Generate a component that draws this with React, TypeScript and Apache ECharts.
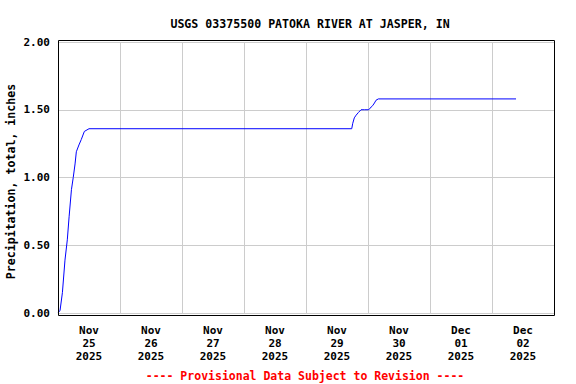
import React, { useEffect, useRef } from "react";
import * as echarts from "echarts";

// Hours since 2025-11-25 00:00 local time
const hours = [0, 0.8, 1.7, 2.7, 3.6, 4.3, 5.2, 5.9, 6.6, 7.1, 8.1, 9.0, 10.2, 12.0, 113.7, 114.1, 114.7, 115.4, 116.3, 117.3, 118.6, 120.3, 121.2, 121.8, 122.5, 123.1, 124.0, 177.3];
const precip = [0, 0.02, 0.15, 0.39, 0.54, 0.71, 0.91, 1.0, 1.1, 1.19, 1.24, 1.28, 1.34, 1.36, 1.36, 1.4, 1.44, 1.46, 1.48, 1.5, 1.5, 1.5, 1.52, 1.53, 1.55, 1.57, 1.58, 1.58];
const dayLabels = ["Nov\n25\n2025", "Nov\n26\n2025", "Nov\n27\n2025", "Nov\n28\n2025", "Nov\n29\n2025", "Nov\n30\n2025", "Dec\n01\n2025", "Dec\n02\n2025"];
const yTicks = [0, 0.5, 1.0, 1.5, 2.0];

const FONT = "DejaVu Sans Mono";

export default function App() {
  const ref = useRef<HTMLDivElement>(null);
  useEffect(() => {
    if (!ref.current) return;
    const chart = echarts.init(ref.current, null, { renderer: "svg" });
    const data = hours.map((h, i) => [h, precip[i]]);
    chart.setOption({
      animation: false,
      backgroundColor: "#ffffff",
      title: {
        text: "USGS 03375500 PATOKA RIVER AT JASPER, IN",
        left: 305,
        top: 13,
        textAlign: "center",
        textStyle: { fontFamily: FONT, fontSize: 11.6, fontWeight: "bold", color: "#000" },
      },
      grid: { left: 58, right: 22, top: 42, bottom: 71, containLabel: false, outerBoundsMode: "none" },
      xAxis: [
        {
          type: "value",
          min: 0,
          max: dayLabels.length * 24,
          interval: 24,
          axisLine: { show: false },
          axisTick: { show: false },
          axisLabel: { show: false },
          splitLine: { show: true, lineStyle: { color: "#cccccc", width: 1 } },
        },
        {
          type: "category",
          data: dayLabels,
          boundaryGap: true,
          position: "bottom",
          axisLine: { show: false },
          axisTick: { show: false },
          splitLine: { show: false },
          axisLabel: {
            margin: 11,
            lineHeight: 13,
            fontFamily: FONT,
            fontSize: 11,
            fontWeight: "bold",
            color: "#000",
            interval: 0,
          },
        },
      ],
      yAxis: {
        type: "value",
        min: yTicks[0],
        max: yTicks[yTicks.length - 1],
        interval: 0.5,
        axisLine: { show: false },
        axisTick: { show: false },
        axisLabel: {
          margin: 8,
          fontFamily: FONT,
          fontSize: 11,
          fontWeight: "bold",
          color: "#000",
          formatter: (v: number) => v.toFixed(2),
        },
        splitLine: { show: true, lineStyle: { color: "#cccccc", width: 1 } },
      },
      graphic: [
        {
          type: "rect",
          shape: { x: 58.5, y: 40.5, width: 496, height: 275 },
          style: { fill: "none", stroke: "#000", lineWidth: 1 },
          z: 100,
        },
        {
          type: "text",
          x: 11,
          y: 181.5,
          rotation: Math.PI / 2,
          style: {
            text: "Precipitation, total, inches",
            font: `bold 11.6px "${FONT}"`,
            fill: "#000",
            textAlign: "center",
            textVerticalAlign: "middle",
          },
        },
        {
          type: "text",
          x: 305,
          y: 376,
          style: {
            text: "---- Provisional Data Subject to Revision ----",
            font: `bold 11.5px "${FONT}"`,
            fill: "#ff0000",
            textAlign: "center",
            textVerticalAlign: "middle",
          },
        },
      ],
      series: [
        {
          type: "line",
          xAxisIndex: 0,
          data,
          showSymbol: false,
          lineStyle: { color: "#0000ff", width: 1 },
          itemStyle: { color: "#0000ff" },
        },
      ],
    });
    return () => chart.dispose();
  }, []);
  return <div ref={ref} style={{ width: 576, height: 384, position: "absolute", left: 0, top: 0 }} />;
}
